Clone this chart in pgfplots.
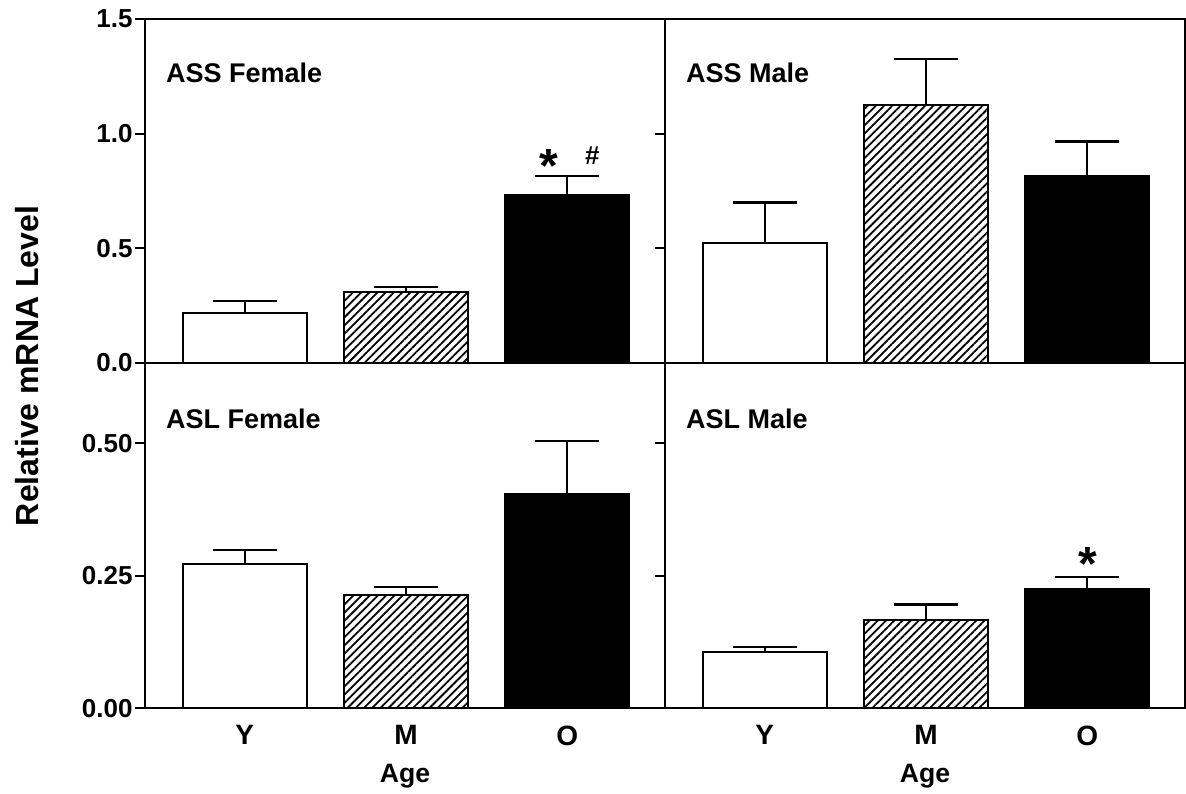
\documentclass[border=0pt]{standalone}
\usepackage{pgfplots}
\pgfplotsset{compat=1.18}
\usepackage{fontspec}
\setmainfont{Liberation Sans}
\usetikzlibrary{patterns.meta}

\pgfplotsset{
  panel/.style={
    scale only axis, width=260pt,
    xmin=-0.618, xmax=2.606,
    axis line style={line width=1.1pt},
    /pgf/number format/assume math mode=true,
    xtick style={draw=none},
    ytick align=outside, ytick pos=left,
    major tick length=5pt,
    ytick style={line width=1.1pt, black},
    yticklabel style={anchor=east, inner sep=0pt, xshift=-1pt},
    xticklabel style={anchor=north, inner sep=0pt, yshift=-8.5pt, font=\bfseries\fontsize{14}{14}\selectfont},
    clip=false,
  },
  mybar/.style={
    ybar, bar width=62pt, bar shift=0pt, draw=black, line width=1pt,
    error bars/y dir=plus, error bars/y explicit,
    error bars/error bar style={line width=1pt, black},
    error bars/error mark options={rotate=90, mark size=16pt, line width=1.2pt, black},
  },
  hatch/.style={pattern={Lines[angle=45,distance=2.9pt,line width=0.9pt]}},
}

\begin{document}
\begin{tikzpicture}
\path[use as bounding box] (0,0) rectangle (593pt,396.5pt);

% ---------------- ASS Female ----------------
\begin{axis}[panel, at={(72.5pt,215pt)}, anchor=south west, height=172pt,
  ymin=0, ymax=1.5, ytick={0,0.5,1,1.5}, xtick=\empty,
  yticklabel={\pgfmathprintnumber[fixed,fixed zerofill,precision=1]{\tick}},
  yticklabel style={font=\bfseries\fontsize{13}{13}\selectfont}]
\addplot[mybar, fill=white] coordinates {(0,0.216) +- (0,0.054)};
\addplot[mybar, hatch] coordinates {(1,0.310) +- (0,0.022)};
\addplot[mybar, fill=black] coordinates {(2,0.731) +- (0,0.084)};
\node[anchor=base west, inner sep=0pt, font=\bfseries\fontsize{13.5}{13.5}\selectfont] at (rel axis cs:0.04,0.814) {ASS Female};
\node[anchor=base, inner sep=0pt, yshift=-13.5pt, font=\bfseries\fontsize{24}{24}\selectfont] at (axis cs:1.888,0.905) {*};
\node[anchor=base, inner sep=0pt, yshift=-4.5pt, font=\bfseries\fontsize{13}{13}\selectfont] at (axis cs:2.155,0.905) {\#};
\end{axis}

% ---------------- ASS Male ----------------
\begin{axis}[panel, at={(332.5pt,215pt)}, anchor=south west, height=172pt,
  ymin=0, ymax=1.5, ytick={0,0.5,1}, xtick=\empty, yticklabels={}]
\addplot[mybar, fill=white] coordinates {(0,0.523) +- (0,0.176)};
\addplot[mybar, hatch] coordinates {(1,1.123) +- (0,0.203)};
\addplot[mybar, fill=black] coordinates {(2,0.815) +- (0,0.151)};
\node[anchor=base west, inner sep=0pt, font=\bfseries\fontsize{13.5}{13.5}\selectfont] at (rel axis cs:0.04,0.814) {ASS Male};
\end{axis}

% ---------------- ASL Female ----------------
\begin{axis}[panel, at={(72.5pt,42.35pt)}, anchor=south west, height=172.65pt,
  ymin=0, ymax=0.6515, ytick={0,0.25,0.5},
  xtick={0,1,2}, xticklabels={Y,M,O},
  yticklabel={\pgfmathprintnumber[fixed,fixed zerofill,precision=2]{\tick}},
  yticklabel style={font=\bfseries\fontsize{13}{13}\selectfont},
  xlabel={Age},
  xlabel style={at={(axis description cs:0.5,0)}, anchor=north, inner sep=0pt, yshift=-27.5pt, font=\bfseries\fontsize{13.3}{13.3}\selectfont}]
\addplot[mybar, fill=white] coordinates {(0,0.272) +- (0,0.027)};
\addplot[mybar, hatch] coordinates {(1,0.214) +- (0,0.015)};
\addplot[mybar, fill=black] coordinates {(2,0.404) +- (0,0.100)};
\node[anchor=base west, inner sep=0pt, font=\bfseries\fontsize{13.5}{13.5}\selectfont] at (rel axis cs:0.04,0.809) {ASL Female};
\end{axis}

% ---------------- ASL Male ----------------
\begin{axis}[panel, at={(332.5pt,42.35pt)}, anchor=south west, height=172.65pt,
  ymin=0, ymax=0.6515, ytick={0,0.25,0.5}, yticklabels={},
  xtick={0,1,2}, xticklabels={Y,M,O},
  xlabel={Age},
  xlabel style={at={(axis description cs:0.5,0)}, anchor=north, inner sep=0pt, yshift=-27.5pt, font=\bfseries\fontsize{13.3}{13.3}\selectfont}]
\addplot[mybar, fill=white] coordinates {(0,0.107) +- (0,0.009)};
\addplot[mybar, hatch] coordinates {(1,0.167) +- (0,0.029)};
\addplot[mybar, fill=black] coordinates {(2,0.226) +- (0,0.022)};
\node[anchor=base west, inner sep=0pt, font=\bfseries\fontsize{13.5}{13.5}\selectfont] at (rel axis cs:0.04,0.809) {ASL Male};
\node[anchor=base, inner sep=0pt, yshift=-13.5pt, font=\bfseries\fontsize{24}{24}\selectfont] at (axis cs:2.003,0.293) {*};
\end{axis}

\node[rotate=90, inner sep=0pt, font=\bfseries\fontsize{16}{16}\selectfont] at (13.5pt,213.5pt) {Relative mRNA Level};
\end{tikzpicture}
\end{document}
